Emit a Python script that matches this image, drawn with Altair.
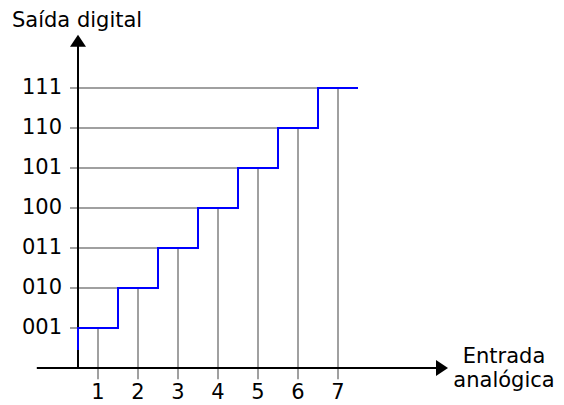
import altair as alt
import pandas as pd

# ---- data ----
codes = ["001", "010", "011", "100", "101", "110", "111"]
levels = [1, 2, 3, 4, 5, 6, 7]
x_ticks = [1, 2, 3, 4, 5, 6, 7]
step_edges = [0.5, 1.5, 2.5, 3.5, 4.5, 5.5, 6.5, 7.5]
step_start = 0.45
y_title = "Saída digital"
x_title = ["Entrada", "analógica"]

FONT = "DejaVu Sans"
FS = 21
W, H = 548, 397
UNIT = 40.0
X = alt.Scale(domain=[-1.25, -1.25 + W / UNIT], nice=False, zero=False)
Y = alt.Scale(domain=[9 - H / UNIT, 9], nice=False, zero=False)

def xe(f="x"):
    return alt.X(f"{f}:Q", scale=X, axis=None)

def ye(f="y"):
    return alt.Y(f"{f}:Q", scale=Y, axis=None)

GRAY = "#a0a0a0"

# horizontal grid lines (tick to step edge)
hdf = pd.DataFrame({"x": [0.3] * len(levels), "x2": [k - 0.5 for k in levels], "y": levels})
hlines = alt.Chart(hdf).mark_rule(color=GRAY, strokeWidth=2).encode(
    x=xe(), x2="x2:Q", y=ye())

# vertical lines (tick to level)
vdf = pd.DataFrame({"x": x_ticks, "y": [-0.28] * len(x_ticks), "y2": levels})
vlines = alt.Chart(vdf).mark_rule(color=GRAY, strokeWidth=2).encode(
    x=xe(), y=ye(), y2="y2:Q")

# axes
xax = alt.Chart(pd.DataFrame({"x": [-0.53], "x2": [9.55], "y": [0]})).mark_rule(
    color="black", strokeWidth=2).encode(x=xe(), x2="x2:Q", y=ye())
yax = alt.Chart(pd.DataFrame({"x": [0.5], "y": [0], "y2": [8.05]})).mark_rule(
    color="black", strokeWidth=2).encode(x=xe(), y=ye(), y2="y2:Q")

up_arrow = alt.Chart(pd.DataFrame({"x": [0.5], "y": [8.33]})).mark_point(
    shape="M0,0L-1,1.5L1,1.5Z", filled=True, color="black", opacity=1, size=256,
    strokeWidth=0).encode(x=xe(), y=ye())
right_arrow = alt.Chart(pd.DataFrame({"x": [9.75], "y": [0]})).mark_point(
    shape="M0,0L-1.5,-1L-1.5,1Z", filled=True, color="black", opacity=1, size=256,
    strokeWidth=0).encode(x=xe(), y=ye())

# step function
sx, sy = [step_edges[0]], [step_start]
for i, k in enumerate(levels):
    sx += [step_edges[i], step_edges[i + 1]]
    sy += [k, k]
sdf = pd.DataFrame({"x": sx, "y": sy, "o": range(len(sx))})
steps = alt.Chart(sdf).mark_line(color="#0000ff", strokeWidth=2).encode(
    x=xe(), y=ye(), order="o:Q")

# tick labels
ylab = alt.Chart(pd.DataFrame({"x": [0.1] * len(levels), "y": levels, "t": codes})).mark_text(
    align="right", baseline="middle", font=FONT, fontSize=FS, color="black").encode(
    x=xe(), y=ye(), text="t:N")
xlab = alt.Chart(pd.DataFrame({"x": x_ticks, "y": [-0.62] * len(x_ticks), "t": [str(v) for v in x_ticks]})).mark_text(
    align="center", baseline="middle", font=FONT, fontSize=FS, color="black").encode(
    x=xe(), y=ye(), text="t:N")

ytitle = alt.Chart(pd.DataFrame({"x": [-1.15], "y": [8.68], "t": [y_title]})).mark_text(
    align="left", baseline="middle", font=FONT, fontSize=FS, color="black").encode(
    x=xe(), y=ye(), text="t:N")
xtitle = alt.Chart(pd.DataFrame({"x": [11.15, 11.15], "y": [0.28, -0.33], "t": x_title})).mark_text(
    align="center", baseline="middle", font=FONT, fontSize=FS, color="black").encode(
    x=xe(), y=ye(), text="t:N")

chart = alt.layer(
    hlines, vlines, xax, yax, up_arrow, right_arrow, steps, ylab, xlab, ytitle, xtitle
).properties(
    width=W, height=H, padding=0, autosize="none", background="white"
).configure_view(stroke=None)

chart.save("out.html", embed_options={"renderer": "svg", "actions": False})
